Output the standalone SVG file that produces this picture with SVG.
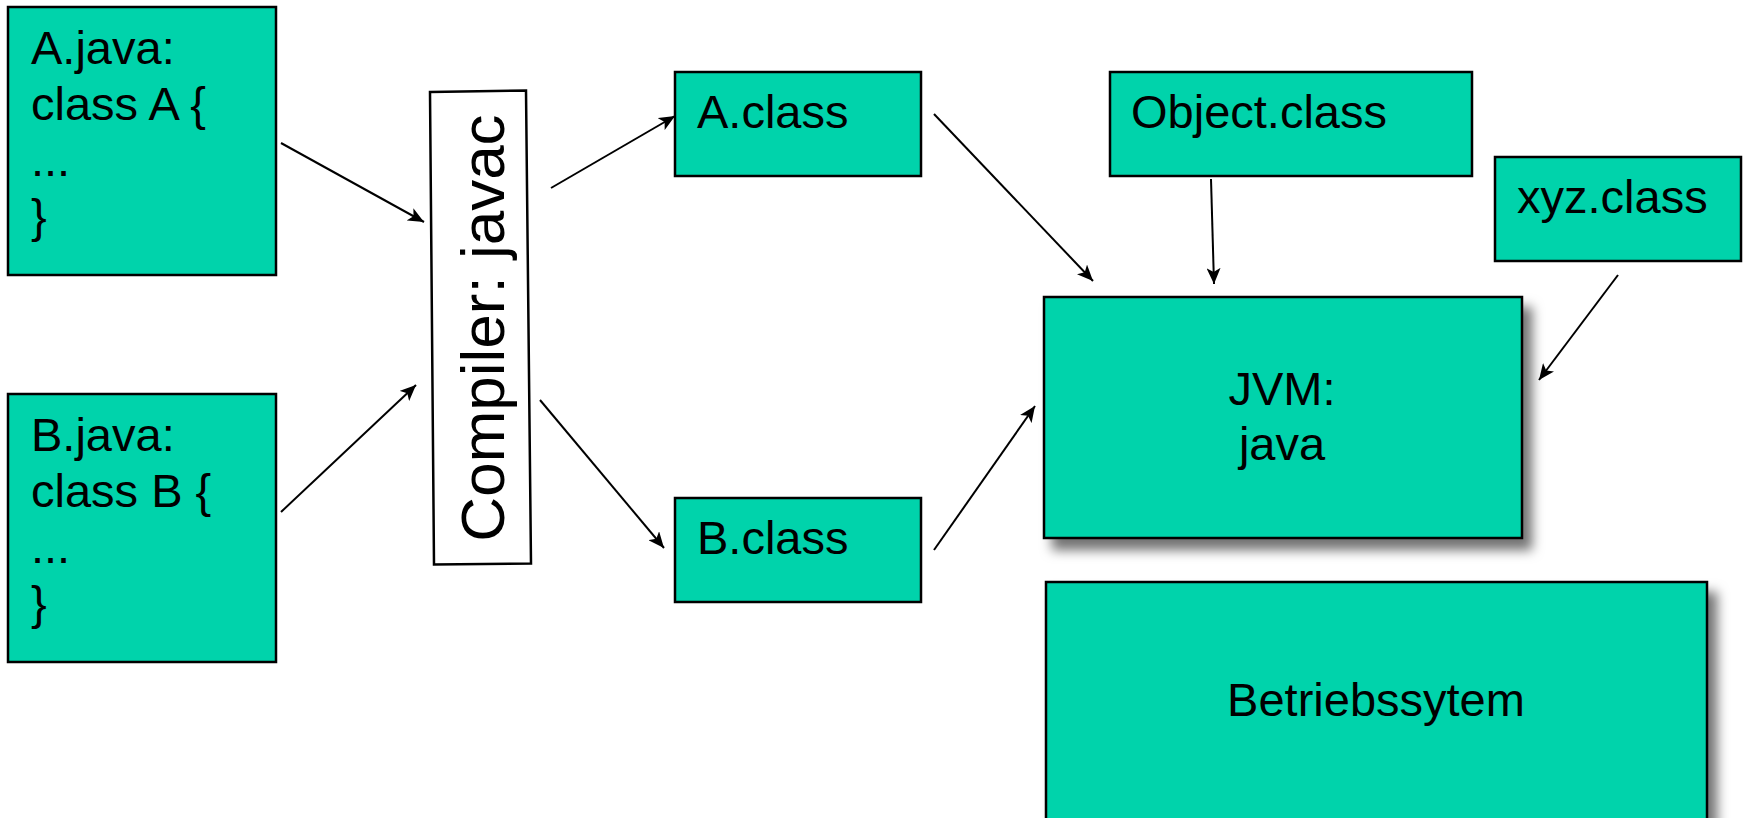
<svg xmlns="http://www.w3.org/2000/svg" width="1744" height="818" viewBox="0 0 1744 818">
<defs>
<style>
.box{fill:#00D3AB;stroke:#000;stroke-width:2.5}
.t{font-family:"Liberation Sans",Arial,sans-serif;font-size:47px;fill:#000}
.c{stroke:#000;stroke-width:2;fill:none;marker-end:url(#ah)}
</style>
<marker id="ah" markerUnits="userSpaceOnUse" markerWidth="16" markerHeight="14" refX="16" refY="7" orient="auto" viewBox="0 0 16 14">
<path d="M0,0 L16,7 L0,14 L4,7 z" fill="#000"/>
</marker>
<filter id="sh" x="-10%" y="-10%" width="130%" height="140%">
<feDropShadow dx="9" dy="11" stdDeviation="6" flood-color="#000" flood-opacity="0.55"/>
</filter>
</defs>
<rect width="1744" height="818" fill="#fff"/>

<g id="a-java">
<rect class="box" x="8" y="7" width="268" height="268"/>
<text class="t" x="31" y="64">A.java:</text>
<text class="t" x="31" y="120">class A {</text>
<text class="t" x="31" y="176">...</text>
<text class="t" x="31" y="232">}</text>
</g>

<g id="b-java">
<rect class="box" x="8" y="394" width="268" height="268"/>
<text class="t" x="31" y="451">B.java:</text>
<text class="t" x="31" y="507">class B {</text>
<text class="t" x="31" y="563">...</text>
<text class="t" x="31" y="619">}</text>
</g>

<g id="compiler">
<polygon points="430,92 526,90.5 531,563.5 434,564.5" fill="#fff" stroke="#000" stroke-width="2.5"/>
<text class="t" style="font-size:62px" text-anchor="middle" transform="translate(504,328) rotate(-90)">Compiler: javac</text>
</g>

<g id="a-class">
<rect class="box" x="675" y="72" width="246" height="104"/>
<text class="t" x="697" y="128">A.class</text>
</g>

<g id="b-class">
<rect class="box" x="675" y="498" width="246" height="104"/>
<text class="t" x="697" y="554">B.class</text>
</g>

<g id="object-class">
<rect class="box" x="1110" y="72" width="362" height="104"/>
<text class="t" x="1131" y="128">Object.class</text>
</g>

<g id="xyz-class">
<rect class="box" x="1495" y="157" width="246" height="104"/>
<text class="t" x="1517" y="213">xyz.class</text>
</g>

<g id="jvm">
<rect class="box" x="1044" y="297" width="478" height="241" filter="url(#sh)"/>
<text class="t" x="1282" y="405" text-anchor="middle">JVM:</text>
<text class="t" x="1282" y="460" text-anchor="middle">java</text>
</g>

<g id="betriebssystem">
<rect class="box" x="1046" y="582" width="661" height="260" filter="url(#sh)"/>
<text class="t" x="1376" y="716" text-anchor="middle">Betriebssytem</text>
</g>

<g id="connectors">
<line class="c" x1="281" y1="143" x2="424" y2="222"/>
<line class="c" x1="281" y1="512" x2="416" y2="385"/>
<line class="c" x1="551" y1="188" x2="675" y2="116"/>
<line class="c" x1="540" y1="400" x2="664" y2="548"/>
<line class="c" x1="934" y1="114" x2="1093" y2="281"/>
<line class="c" x1="1211" y1="179" x2="1214" y2="284"/>
<line class="c" x1="1618" y1="275" x2="1539" y2="380"/>
<line class="c" x1="934" y1="550" x2="1035" y2="406"/>
</g>
</svg>
